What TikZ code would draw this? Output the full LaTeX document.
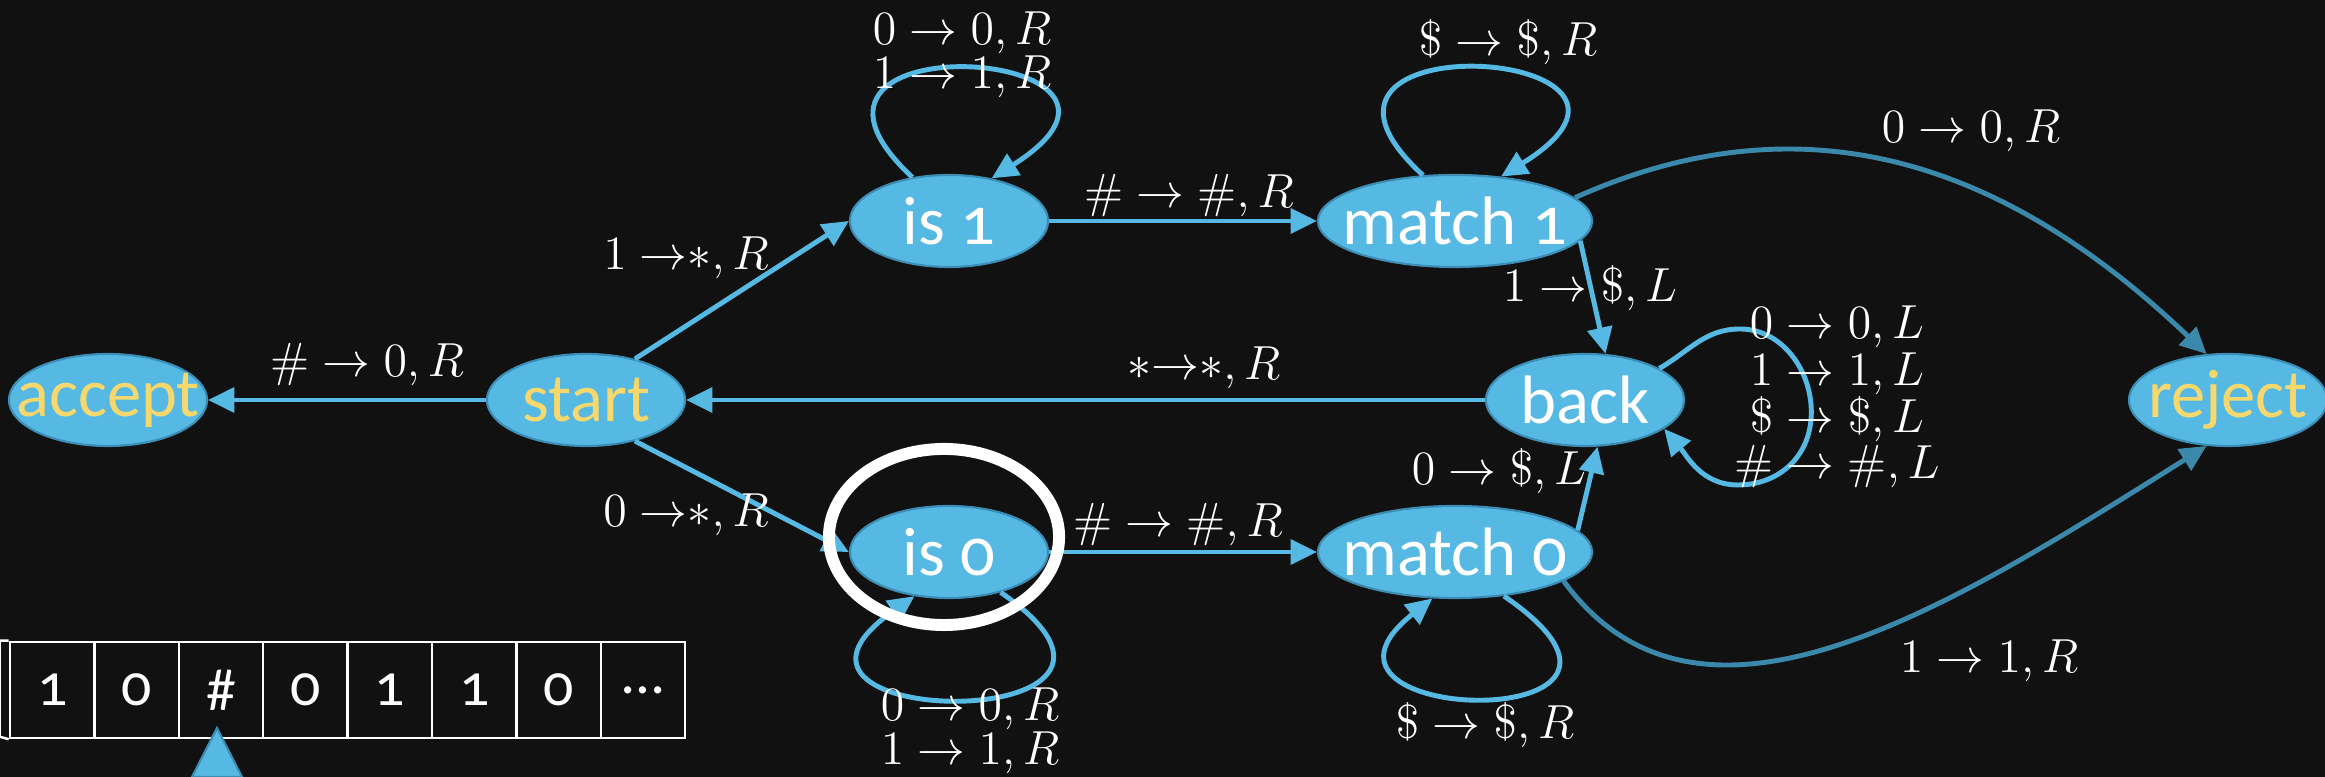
\RequirePackage{fix-cm}
\documentclass[tikz,border=0pt]{standalone}
\usepackage{amsmath}
\usepackage{fontspec}
\newfontfamily\statefont[Numbers=OldStyle]{Carlito}
\usepackage{tikz}
\usetikzlibrary{arrows.meta, shapes.geometric}

\definecolor{board}{HTML}{111111}
\definecolor{stateblue}{HTML}{56B9E3}
\definecolor{stateedge}{HTML}{3C8DB4}
\definecolor{rejectblue}{HTML}{3B89AA}
\definecolor{chalkyellow}{HTML}{F6D86C}

\begin{document}
\begin{tikzpicture}[x=0.01cm, y=0.01cm,
  every node/.style={font=\fontsize{13.6}{12.5}\selectfont, text=white, inner sep=1pt},
  state/.style={ellipse, fill=stateblue, draw=stateedge, line width=0.6pt, inner sep=0pt,
    minimum width=1.98cm, minimum height=0.92cm, font=\statefont\fontsize{19.5}{19.5}\selectfont},
  wide/.style={minimum width=2.74cm},
  halt/.style={text=chalkyellow},
  edge/.style={draw=stateblue, line width=1.4pt, -{Triangle[length=7.5pt,width=7pt]}},
  redge/.style={edge, draw=rejectblue},
  cell/.style={rectangle, draw=white, line width=0.7pt, inner sep=0pt,
    minimum width=0.844cm, minimum height=0.96cm, font=\statefont\fontsize{17}{17}\selectfont},
  tapeline/.style={draw=white, line width=0.7pt}]

  % ---------- board ----------
  \fill[board] (0,0) rectangle (2325,777);
  \useasboundingbox (0,0) rectangle (2325,777);

  % ---------- states ----------
  \node[state, halt] (accept) at (108,377) {\makebox[0pt]{accept}};
  \node[state, halt] (start) at (586,377) {\makebox[0pt]{start}};
  \node[state] (is1) at (949,556) {\makebox[0pt]{is 1}};
  \node[state, wide] (match1) at (1455,556) {\makebox[0pt]{match 1}};
  \node[state] (is0) at (949,225) {\makebox[0pt]{is 0}};
  \node[state, wide] (match0) at (1455,225) {\makebox[0pt]{match 0}};
  \node[state] (back) at (1585,377) {\makebox[0pt]{back}};
  \node[state, halt] (reject) at (2228,377) {\makebox[0pt]{reject}};

  % ---------- transitions ----------
  \draw[edge] (start) -- (accept);
  \draw[edge] (start.40) -- (is1.west);
  \draw[edge] (start.-40) -- (is0.west);
  \draw[edge] (is1) -- (match1);
  \draw[edge] (is0) -- (match0);
  \draw[edge] (match1.-9) -- (back.66);
  \draw[edge] (match0.10) -- (back.-75);
  \draw[edge] (back) -- (start);
  \draw[redge] (match1.11) .. controls (1800,680) and (2000,620) .. (reject.115);
  \draw[redge] (match0.-15) .. controls (1700,10) and (1950,170) .. (reject.-115);

  % self loops
  \draw[edge] (is1.130) .. controls (740,760) and (1200,730) .. (is1.45);
  \draw[edge] (match1.125) .. controls (1250,760) and (1710,730) .. (match1.44);
  \draw[edge] (is0.-38) .. controls (1210,40) and (720,45) .. (is0.-128);
  \draw[edge] (match0.-42) .. controls (1710,40) and (1270,50) .. (match0.-116);
  \draw[edge] (back.23) to[out=30,in=180] (1740,448) to[out=0,in=80] (1810,350)
    to[out=-100,in=0] (1738,292) to[out=180,in=-50] (back.-20);

  % ---------- labels ----------
  \node (lblAcc) at (367,412) {$\# \rightarrow 0, R$};
  \node (lblOne) at (686,519) {$1\;{\rightarrow}{\ast}, R$};
  \node (lblZero) at (686,262) {$0\;{\rightarrow}{\ast}, R$};
  \node[align=center] (lblIsOne) at (962,722) {$0 \rightarrow 0, R$\\$1 \rightarrow 1, R$};
  \node (lblHashTop) at (1189,581) {$\# \rightarrow \#, R$};
  \node (lblDollarTop) at (1508,735) {$\$ \rightarrow \$, R$};
  \node (lblRejTop) at (1971,646) {$0 \rightarrow 0, R$};
  \node (lblBackOne) at (1590,489) {$1 \rightarrow \$, L$};
  \node (lblStar) at (1204,409) {${\ast}{\rightarrow}{\ast}, R$};
  \node[align=center, font=\fontsize{13.6}{13.3}\selectfont] (lblBack) at (1837,380)
    {$0 \rightarrow 0, L$\\$1 \rightarrow 1, L$\\$\$ \rightarrow \$, L$\\$\# \rightarrow \#, L$};
  \node (lblBackZero) at (1499,306) {$0 \rightarrow \$, L$};
  \node[align=center] (lblIsZero) at (970,46) {$0 \rightarrow 0, R$\\$1 \rightarrow 1, R$};
  \node (lblHashBot) at (1178,252) {$\# \rightarrow \#, R$};
  \node (lblDollarBot) at (1485,52) {$\$ \rightarrow \$, R$};
  \node (lblRejBot) at (1989,116) {$1 \rightarrow 1, R$};

  % ---------- tape ----------
  \foreach \s [count=\i] in {1,0,\#,0,1,1,0,\dots}
    \node[cell] (cell\i) at ({10+84.4*(\i-0.5)},87) {\s};
  \draw[tapeline] (cell1.north west) -- ++(-9,0) -- ++(0,-96) -- (cell1.south west);
  \filldraw[fill=stateblue, draw=stateedge, line width=0.6pt] (217,49) -- (192,0) -- (242,0) -- cycle;

  % ---------- highlight ----------
  \node[ellipse, draw=white, line width=3.4pt, inner sep=0pt,
    minimum width=2.30cm, minimum height=1.76cm] (focus) at (944,240) {};
\end{tikzpicture}
\end{document}
